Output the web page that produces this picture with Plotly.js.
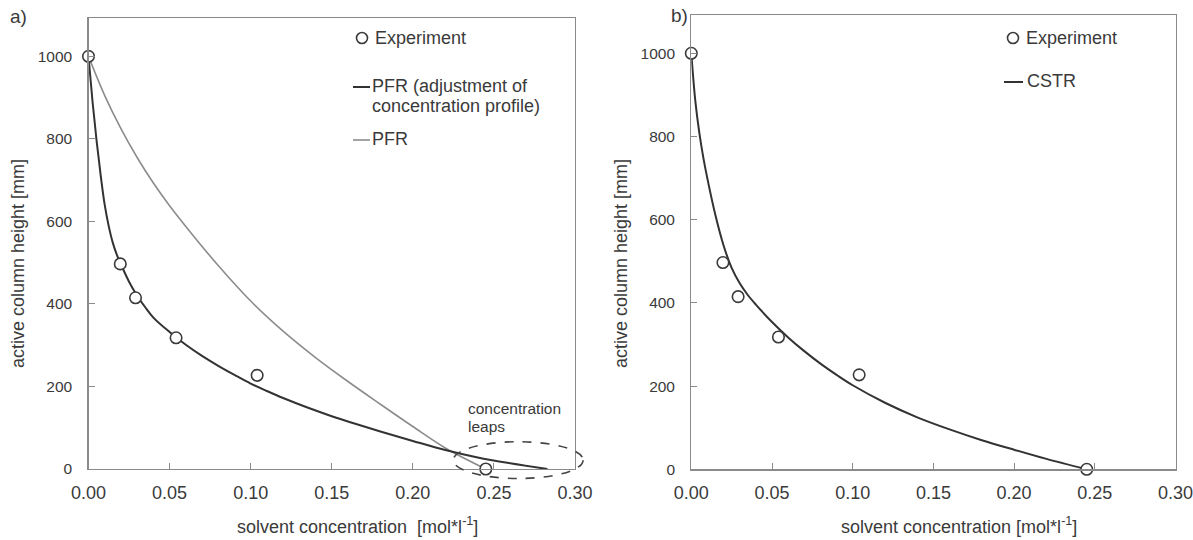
<!DOCTYPE html>
<html>
<head>
<meta charset="utf-8">
<script src="https://cdn.plot.ly/plotly-3.0.1.min.js"></script>
<style>html,body{margin:0;padding:0;background:#fff;}#chart{width:1193px;height:540px;}</style>
</head>
<body>
<div id="chart"></div>
<script>
// Experimental points (same in both panels)
const expConc = [0, 0.0196, 0.029, 0.054, 0.104, 0.245];
const expHeight = [1000, 497, 415, 318, 227, 0];

// Panel a) PFR with adjustment of concentration profile (dark line)
const pfrAdjConc = [0, 0.0025, 0.005, 0.0075, 0.01, 0.0125, 0.015, 0.0175, 0.02, 0.025, 0.03, 0.035, 0.04, 0.05, 0.06, 0.07, 0.08, 0.09, 0.10, 0.11, 0.12, 0.135, 0.15, 0.165, 0.18, 0.20, 0.22, 0.24, 0.26, 0.283];
const pfrAdjHeight = [1000, 890, 795, 712, 640, 588, 548, 519, 496, 454, 420, 392, 367, 332, 301, 274, 250, 228, 207, 189, 172, 149, 128, 109, 91, 68, 46, 28, 14, 0];

// Panel a) PFR (grey line)
const pfrConc = [0, 0.01, 0.02, 0.03, 0.04, 0.05, 0.06, 0.08, 0.10, 0.12, 0.14, 0.16, 0.18, 0.20, 0.22, 0.245];
const pfrHeight = [1000, 905, 825, 755, 693, 638, 588, 493, 407, 334, 270, 212, 157, 103, 51, 0];

// Panel b) CSTR
const cstrConc = [0, 0.0025, 0.005, 0.0075, 0.01, 0.015, 0.02, 0.025, 0.03, 0.035, 0.04, 0.05, 0.06, 0.07, 0.08, 0.09, 0.10, 0.12, 0.14, 0.16, 0.18, 0.20, 0.22, 0.245];
const cstrHeight = [1000, 885, 808, 748, 698, 610, 538, 484, 447, 419, 396, 354, 317, 284, 254, 227, 202, 160, 125, 96, 70, 47, 25, 0];

const xTickVals = [0, 0.05, 0.1, 0.15, 0.2, 0.25, 0.3];
const xTickText = ['0.00', '0.05', '0.10', '0.15', '0.20', '0.25', '0.30'];
const yTickVals = [0, 200, 400, 600, 800, 1000];

const W = 1193, H = 540;
const FONT = '"Liberation Sans", Arial, sans-serif';
const TXT = '#3a3a3a';
const AX = '#8a8a8a';
const px = v => v / W;
const py = v => 1 - v / H;

const markerStyle = {symbol: 'circle', size: 11.5, color: '#ffffff', line: {color: '#3a3a3a', width: 1.6}};
const lineShape = {shape: 'spline', smoothing: 1};

const traces = [
  {x: pfrConc, y: pfrHeight, xaxis: 'x', yaxis: 'y', type: 'scatter', mode: 'lines', name: 'PFR',
   line: Object.assign({color: '#8c8c8c', width: 1.6}, lineShape), showlegend: false, cliponaxis: false},
  {x: pfrAdjConc, y: pfrAdjHeight, xaxis: 'x', yaxis: 'y', type: 'scatter', mode: 'lines', name: 'PFR (adjustment of concentration profile)',
   line: Object.assign({color: '#333333', width: 2}, lineShape), showlegend: false, cliponaxis: false},
  {x: expConc, y: expHeight, xaxis: 'x', yaxis: 'y', type: 'scatter', mode: 'markers', name: 'Experiment',
   marker: markerStyle, showlegend: false, cliponaxis: false},
  {x: cstrConc, y: cstrHeight, xaxis: 'x2', yaxis: 'y2', type: 'scatter', mode: 'lines', name: 'CSTR',
   line: Object.assign({color: '#333333', width: 2}, lineShape), showlegend: false, cliponaxis: false},
  {x: expConc, y: expHeight, xaxis: 'x2', yaxis: 'y2', type: 'scatter', mode: 'markers', name: 'Experiment',
   marker: markerStyle, showlegend: false, cliponaxis: false}
];

function xAxis(domain, anchor) {
  return {domain: domain, anchor: anchor, range: [0, 0.3], tickvals: xTickVals, ticktext: xTickText,
    ticks: 'inside', ticklen: 6, tickcolor: AX, tickwidth: 1, showline: true, linecolor: AX, linewidth: 1.2,
    mirror: true, showgrid: false, zeroline: false, tickfont: {family: FONT, size: 18, color: TXT},
    ticklabelstandoff: 7, ticklabeloverflow: 'allow', fixedrange: true};
}
function yAxis(domain, anchor, top) {
  return {domain: domain, anchor: anchor, range: [0, top], tickvals: yTickVals,
    ticks: 'inside', ticklen: 6, tickcolor: AX, tickwidth: 1, showline: true, linecolor: AX, linewidth: 1.2,
    mirror: true, showgrid: false, zeroline: false, tickfont: {family: FONT, size: 15.5, color: TXT},
    ticklabelstandoff: 12, ticklabeloverflow: 'allow', fixedrange: true};
}

const yTopA = 1093, yTopB = 1092;

const ann = (x, y, text, size, xanchor, extra) => Object.assign({
  xref: 'paper', yref: 'paper', x: px(x), y: py(y), text: text, showarrow: false,
  xanchor: xanchor || 'left', yanchor: 'middle', font: {family: FONT, size: size, color: TXT}, align: 'left'
}, extra || {});

const annotations = [
  ann(8, 16, 'a)', 19),
  ann(690, 15, 'b)', 19, 'right'),
  // axis titles
  ann(357, 525, 'solvent concentration  [mol*l<sup>-1</sup>]', 18, 'center'),
  ann(959, 525, 'solvent concentration [mol*l<sup>-1</sup>]', 18, 'center'),
  ann(18, 264, 'active column height [mm]', 18, 'center', {textangle: -90}),
  ann(621, 264, 'active column height [mm]', 18, 'center', {textangle: -90}),
  // legend a)
  ann(373, 38, 'Experiment', 18),
  ann(370, 86, 'PFR (adjustment of', 18),
  ann(370, 106, 'concentration profile)', 18),
  ann(370, 139, 'PFR', 18),
  // legend b)
  ann(1024, 38, 'Experiment', 18),
  ann(1025, 81, 'CSTR', 18),
  // concentration leaps
  {xref: 'x', yref: 'y', x: 0.233, y: (469 - 409) / 0.4125, text: 'concentration', showarrow: false, xanchor: 'left', yanchor: 'middle',
   font: {family: FONT, size: 15.5, color: TXT}},
  {xref: 'x', yref: 'y', x: 0.233, y: (469 - 427) / 0.4125, text: 'leaps', showarrow: false, xanchor: 'left', yanchor: 'middle',
   font: {family: FONT, size: 15.5, color: TXT}}
];

const shapes = [
  // legend a)
  {type: 'circle', xref: 'paper', yref: 'paper', x0: px(356.5), x1: px(367.5), y0: py(43.5), y1: py(32.5),
   line: {color: '#3a3a3a', width: 1.6}, fillcolor: '#ffffff'},
  {type: 'line', xref: 'paper', yref: 'paper', x0: px(353), x1: px(370), y0: py(87), y1: py(87), line: {color: '#333333', width: 2}},
  {type: 'line', xref: 'paper', yref: 'paper', x0: px(353), x1: px(370), y0: py(140), y1: py(140), line: {color: '#8c8c8c', width: 1.6}},
  // legend b)
  {type: 'circle', xref: 'paper', yref: 'paper', x0: px(1007.5), x1: px(1018.5), y0: py(43.5), y1: py(32.5),
   line: {color: '#3a3a3a', width: 1.6}, fillcolor: '#ffffff'},
  {type: 'line', xref: 'paper', yref: 'paper', x0: px(1004), x1: px(1023), y0: py(82), y1: py(82), line: {color: '#333333', width: 2}},
  // dashed ellipse around concentration leaps (domain refs so it is not clipped)
  {type: 'circle', xref: 'x domain', yref: 'y domain', x0: 0.2249 / 0.3, x1: 0.305 / 0.3, y0: -23 / yTopA, y1: 66 / yTopA,
   line: {color: '#444444', width: 1.6, dash: 'dash'}, fillcolor: 'rgba(0,0,0,0)'}
];

const layout = {
  width: W, height: H,
  margin: {l: 0, r: 0, t: 0, b: 0},
  paper_bgcolor: '#ffffff', plot_bgcolor: '#ffffff',
  showlegend: false,
  font: {family: FONT, color: TXT},
  xaxis: xAxis([88.5 / W, 575 / W], 'y'),
  yaxis: yAxis([(H - 469) / H, (H - 18) / H], 'x', yTopA),
  xaxis2: xAxis([691.3 / W, 1175.5 / W], 'y2'),
  yaxis2: yAxis([(H - 469.3) / H, (H - 15) / H], 'x2', yTopB),
  annotations: annotations,
  shapes: shapes
};

Plotly.newPlot('chart', traces, layout, {staticPlot: true, displayModeBar: false});
</script>
</body>
</html>
